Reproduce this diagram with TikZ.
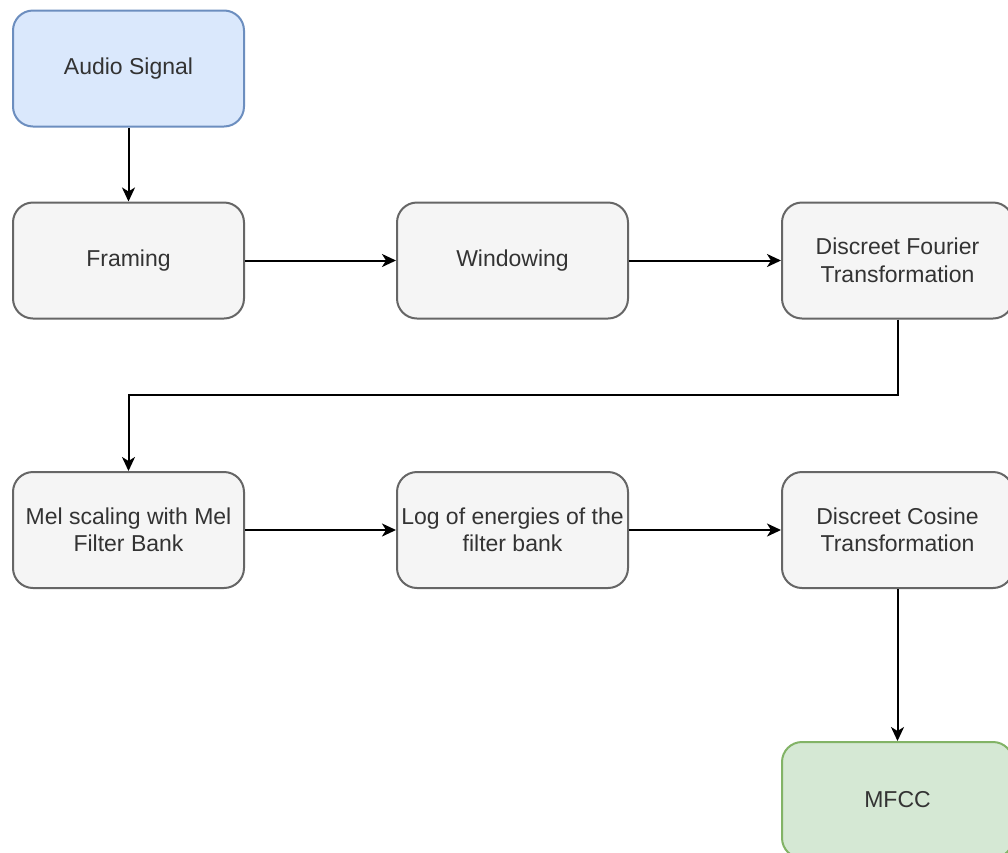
\documentclass[tikz,border=0pt]{standalone}
\usepackage{fontspec}
\setmainfont{Liberation Sans}
\usetikzlibrary{arrows.meta}
\definecolor{gfill}{HTML}{F5F5F5}
\definecolor{gline}{HTML}{666666}
\definecolor{tcol}{HTML}{333333}
\definecolor{bfill}{HTML}{DAE8FC}
\definecolor{bline}{HTML}{6C8EBF}
\definecolor{grfill}{HTML}{D5E8D4}
\definecolor{grline}{HTML}{82B366}
\tikzset{
  box/.style={draw=gline, fill=gfill, line width=2pt, rounded corners=20pt,
    minimum width=231pt, minimum height=116pt, inner sep=0pt,
    text=tcol, align=center,
    font=\fontsize{23}{27.5}\selectfont},
  bluebox/.style={box, draw=bline, fill=bfill},
  greenbox/.style={box, draw=grline, fill=grfill},
  conn/.style={line width=2pt, draw=black, -{Stealth[length=14pt, width=13pt, inset=4pt]}}
}
\begin{document}
\begin{tikzpicture}[x=1pt, y=-1pt]
\clip (0,0) rectangle (1008,852);
\fill[white] (0,0) rectangle (1008,852);
\node[bluebox] (audio) at (128.5,68.5) {Audio Signal};
\node[box] (framing) at (128.5,260.5) {Framing};
\node[box] (window) at (512.5,260.5) {Windowing};
\node[box] (dft) at (897.5,260.5) {Discreet Fourier\\Transformation};
\node[box] (mel) at (128.5,530) {Mel scaling with Mel\\Filter Bank};
\node[box] (log) at (512.5,530) {Log of energies of the\\filter bank};
\node[box] (dct) at (897.5,530) {Discreet Cosine\\Transformation};
\node[greenbox] (mfcc) at (897.5,800) {MFCC};
\coordinate (bend1) at (897.5,395);
\coordinate (bend2) at (128.5,395);
\draw[conn] (audio) -- (framing);
\draw[conn] (framing) -- (window);
\draw[conn] (window) -- (dft);
\draw[conn, rounded corners=0pt] (dft.south) -- (bend1) -- (bend2) -- (mel.north);
\draw[conn] (mel) -- (log);
\draw[conn] (log) -- (dct);
\draw[conn] (dct) -- (mfcc);
\end{tikzpicture}
\end{document}
